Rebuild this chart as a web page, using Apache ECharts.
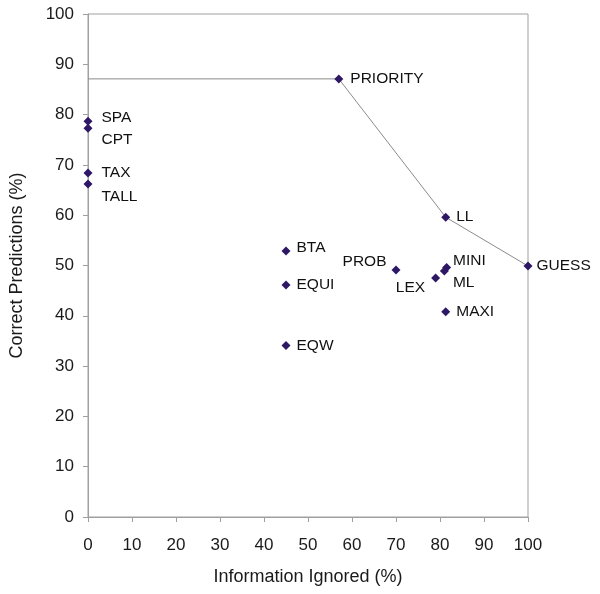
<!DOCTYPE html>
<html><head><meta charset="utf-8">
<script src="https://cdn.jsdelivr.net/npm/echarts@6/dist/echarts.min.js"></script>
<style>html,body{margin:0;padding:0;background:#fff}#c{width:600px;height:594px}</style>
</head><body><div id="c"></div>
<script>
const names = ['SPA','CPT','TAX','TALL','PRIORITY','LL','GUESS','BTA','EQUI','EQW','PROB','LEX','MINI','ML','MAXI'];
const infoIgnored = [0,0,0,0,57,81.3,100,45,45,45,70,79,81.5,81,81.3];
const correct = [78.7,77.3,68.4,66.2,87.1,59.6,49.9,52.9,46.1,34.1,49.1,47.5,49.6,48.9,40.8];
const frontierX = [0,57,81.3,100];
const frontierY = [87.1,87.1,59.6,49.9];
const xTicks = [0,10,20,30,40,50,60,70,80,90,100];
const yTicks = [0,10,20,30,40,50,60,70,80,90,100];

// label placement (style only)
const labelStyle = {
  SPA:{position:'right',offset:[4,-3]},
  CPT:{position:'right',offset:[4,12]},
  TAX:{position:'right',offset:[4,0]},
  TALL:{position:'right',offset:[4,13]},
  PRIORITY:{position:'right',offset:[2,0]},
  LL:{position:'right',offset:[1,0]},
  GUESS:{position:'right',offset:[-1,0]},
  BTA:{position:'right',offset:[1,-3]},
  EQUI:{position:'right',offset:[1,0]},
  EQW:{position:'right',offset:[1,0]},
  PROB:{position:'left',offset:[0,-8]},
  LEX:{position:'left',offset:[-1,10]},
  MINI:{position:'right',offset:[-3,-7]},
  ML:{position:'right',offset:[-1,12]},
  MAXI:{position:'right',offset:[1,0]}
};

const pts = names.map((n,i)=>({name:n, value:[infoIgnored[i], correct[i]], label:Object.assign({show:true, formatter:n}, labelStyle[n])}));
const frontier = frontierX.map((x,i)=>[x, frontierY[i]]);

const chart = echarts.init(document.getElementById('c'));
const font = 'Liberation Sans, Arial, sans-serif';
chart.setOption({
  animation:false,
  grid:{left:88,right:72,top:14,bottom:77,show:true,borderColor:'#a0a0a0',borderWidth:1,containLabel:false,outerBoundsMode:'none'},
  xAxis:{type:'value',min:0,max:100,interval:10,
    name:'Information Ignored (%)',nameLocation:'middle',nameGap:51,
    nameTextStyle:{fontFamily:font,fontSize:18,color:'#1a1a1a'},
    axisLine:{lineStyle:{color:'#a0a0a0'}},
    axisTick:{show:true,length:5,lineStyle:{color:'#a0a0a0'}},
    axisLabel:{fontFamily:font,fontSize:17,color:'#1a1a1a',margin:20},
    splitLine:{show:false}},
  yAxis:{type:'value',min:0,max:100,interval:10,
    name:'Correct Predictions (%)',nameLocation:'middle',nameGap:62,
    nameTextStyle:{fontFamily:font,fontSize:18,color:'#1a1a1a'},
    axisLine:{show:true,lineStyle:{color:'#a0a0a0'}},
    axisTick:{show:true,length:5,lineStyle:{color:'#a0a0a0'}},
    axisLabel:{fontFamily:font,fontSize:17,color:'#1a1a1a',margin:14},
    splitLine:{show:false}},
  series:[
    {type:'line',data:frontier,symbol:'none',lineStyle:{color:'#8a8a8a',width:1},z:1,silent:true},
    {type:'scatter',data:pts,symbol:'diamond',symbolSize:9,
      itemStyle:{color:'#2e1866',opacity:1},
      label:{fontFamily:font,fontSize:15.5,color:'#111',distance:5},z:2}
  ]
});
</script></body></html>
